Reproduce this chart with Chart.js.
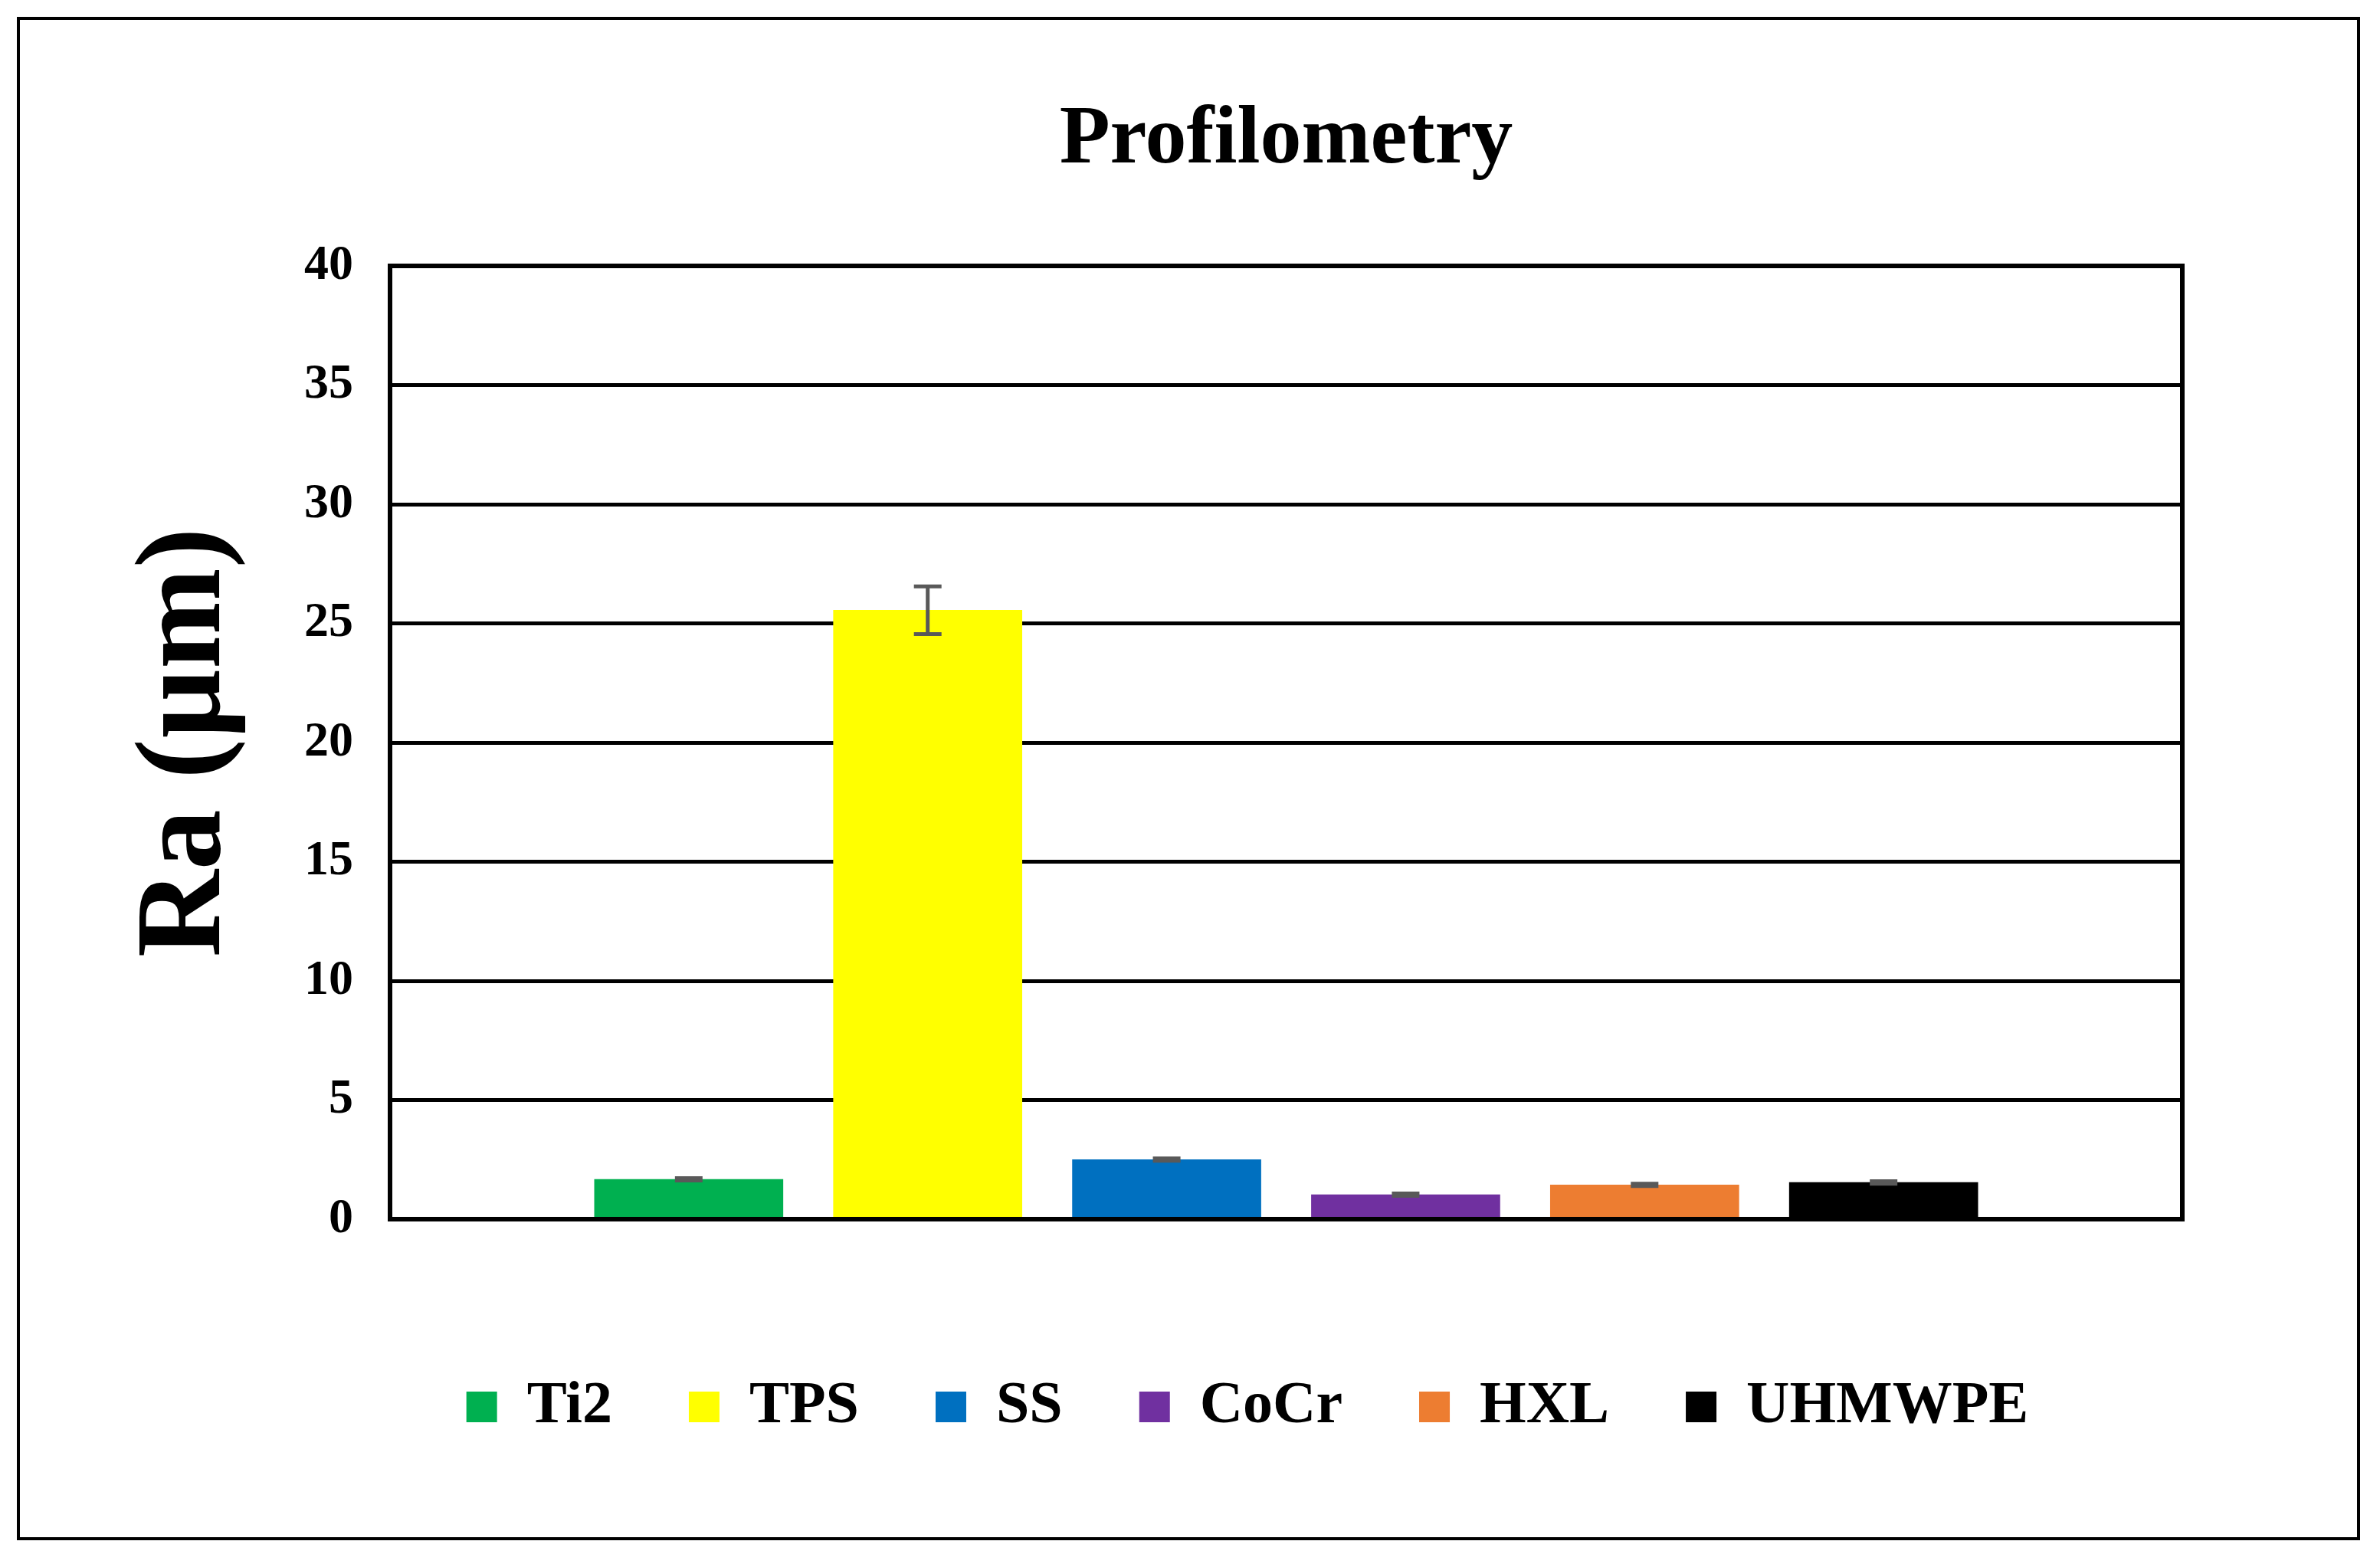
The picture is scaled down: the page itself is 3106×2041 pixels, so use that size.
<!DOCTYPE html>
<html>
<head>
<meta charset="utf-8">
<script src="https://cdn.jsdelivr.net/npm/chart.js@4"></script>
<style>
  body { margin: 0; background: #fff; }
  #wrap { position: relative; width: 3106px; height: 2041px; }
  #frame { position: absolute; left: 22px; top: 22px; width: 3050px; height: 1980px; border: 4px solid #000; pointer-events: none; }
</style>
</head>
<body>
<div id="wrap">
  <canvas id="myChart" width="3106" height="2041"></canvas>
  <div id="frame"></div>
</div>
<script>
// Data
const categories = ['Ti2', 'TPS', 'SS', 'CoCr', 'HXL', 'UHMWPE'];
const raValues = [1.67, 25.55, 2.5, 1.03, 1.44, 1.54];
const raErrors = [0.05, 1.0, 0.05, 0.05, 0.05, 0.05];
const barColors = ['#00B050', '#FFFF00', '#0070C0', '#7030A0', '#ED7D31', '#000000'];
const yTicks = [0, 5, 10, 15, 20, 25, 30, 35, 40];
const chartTitle = 'Profilometry';

const FONT = '"Liberation Serif", "Times New Roman", serif';

// Titel, Fehlerbalken und Rahmen um den Plotbereich
const extras = {
    id: 'extras',
    afterDatasetsDraw(chart) {
        const ctx = chart.ctx;
        const x = chart.scales.x, y = chart.scales.y;
        ctx.save();
        ctx.strokeStyle = '#595959';
        ctx.lineWidth = 5;
        raValues.forEach((v, i) => {
            const px = x.getPixelForValue(i);
            const top = y.getPixelForValue(v + raErrors[i]);
            const bot = y.getPixelForValue(v - raErrors[i]);
            ctx.beginPath();
            ctx.moveTo(px, top); ctx.lineTo(px, bot);
            ctx.moveTo(px - 18, top); ctx.lineTo(px + 18, top);
            ctx.moveTo(px - 18, bot); ctx.lineTo(px + 18, bot);
            ctx.stroke();
        });
        const a = chart.chartArea;
        ctx.strokeStyle = '#000';
        ctx.lineWidth = 6;
        ctx.strokeRect(a.left, a.top, a.right - a.left, a.bottom - a.top);

        // Titel über der Mitte des Plotbereichs
        ctx.fillStyle = '#000';
        ctx.font = 'bold 108px ' + FONT;
        ctx.textAlign = 'center';
        ctx.textBaseline = 'middle';
        ctx.fillText(chartTitle, (a.left + a.right) / 2, 184);
        ctx.restore();
    }
};

const ctx = document.getElementById('myChart').getContext('2d');
new Chart(ctx, {
    type: 'bar',
    data: {
        datasets: [{
            data: raValues.map((v, i) => ({ x: i, y: v })),
            backgroundColor: barColors,
            barThickness: 246
        }]
    },
    options: {
        responsive: false,
        animation: false,
        layout: { padding: { left: 150, right: 0, bottom: 156, top: 347 } },
        plugins: {
            title: { display: false },
            legend: {
                position: 'bottom',
                labels: {
                    color: '#000',
                    font: { family: FONT, size: 78, weight: 'bold' },
                    boxWidth: 40, boxHeight: 40,
                    padding: 100,
                    generateLabels: () => categories.map((c, i) => ({
                        text: c, fillStyle: barColors[i], strokeStyle: barColors[i], lineWidth: 0
                    }))
                }
            },
            tooltip: { enabled: false }
        },
        scales: {
            x: {
                type: 'linear',
                min: -1.25, max: 6.25,
                offset: false,
                ticks: { display: false },
                grid: { display: false },
                border: { display: false },
                afterFit: s => { s.height = 106; }
            },
            y: {
                min: 0, max: 40,
                afterBuildTicks: s => { s.ticks = yTicks.map(v => ({ value: v })); },
                ticks: {
                    color: '#000',
                    padding: 48,
                    font: { family: FONT, size: 64, weight: 'bold' }
                },
                grid: { color: '#000', lineWidth: 5, drawTicks: false },
                border: { color: '#000', width: 6 },
                title: {
                    display: true,
                    text: 'Ra (µm)',
                    color: '#000',
                    font: { family: FONT, size: 158, weight: 'bold' },
                    padding: 0
                },
                afterFit: s => { s.width = 359; }
            },
            spacer: {
                position: 'right',
                ticks: { display: false },
                grid: { display: false },
                border: { display: false },
                afterFit: s => { s.width = 258; }
            }
        }
    },
    plugins: [extras]
});
</script>
</body>
</html>
